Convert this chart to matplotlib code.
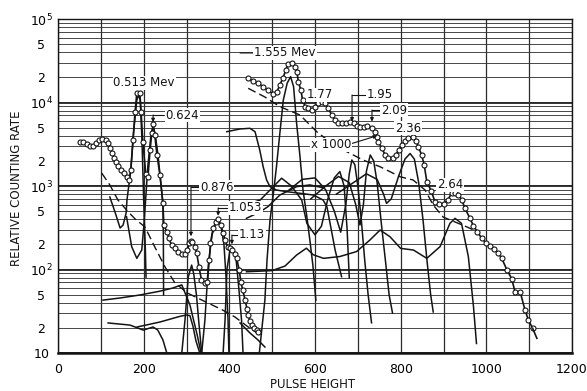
import numpy as np
import matplotlib
matplotlib.use('Agg')
import matplotlib.pyplot as plt
from matplotlib.ticker import FixedLocator, NullFormatter, FixedFormatter

# ---------------- data (pulse height, relative counting rate) ----------------
main_left_x = [51, 58, 68, 75, 82, 89, 96, 103, 112, 117, 121, 126, 131, 135, 140, 147, 154, 161, 166, 170,
               175, 180, 184, 191, 194, 198, 205, 210, 215, 219, 222, 226, 231, 238, 245, 247,
               254, 259, 265, 273, 281, 289, 297, 302, 307, 310, 314, 320, 324, 329, 335, 343, 349, 353,
               356, 362, 369, 374, 380, 386, 390, 396, 402, 407, 413, 417, 423, 427, 431, 437, 441, 444,
               448, 454, 458, 464, 468]
main_left_y = [3370, 3370, 3190, 3010, 3010, 3270, 3560, 3660, 3560, 3270, 2850, 2480, 2160, 1940, 1740, 1560,
               1430, 1280, 1180, 1560, 3560, 7700, 13000, 13000, 7700, 3370, 1390, 1280, 2700, 4320, 5520,
               4080, 2350, 1360, 625, 341,
               284, 237, 197, 179, 163, 152, 152, 171, 206, 221, 215, 185, 156, 108, 75, 68, 71, 130,
               206, 311, 373, 399, 341, 272, 225, 185, 179, 171, 152, 136, 99, 71, 57, 43, 34, 28.5,
               24.4, 21.6, 20.1, 18.8, 18]

main_right_x = [444, 455, 467, 479, 490, 502, 511, 518, 525, 532, 537, 546, 553, 558, 561, 567, 571, 577, 584,
                592, 600, 608, 616, 623, 631, 639, 647, 654, 662, 672, 681, 690, 697, 705, 715, 722, 732,
                740, 744, 748, 756, 764, 771, 781, 789, 795, 803, 810, 818, 828, 836, 841, 849, 855, 861,
                871, 880, 890, 900, 910, 919, 927, 935, 943, 950, 962, 970, 979, 989, 999, 1009, 1018,
                1027, 1036, 1048, 1059, 1067, 1079, 1090, 1098, 1108]
main_right_y = [19650, 18070, 17130, 15350, 14130, 12650, 13370, 16220, 19650, 24500, 28900, 29700, 26600,
                23200, 17740, 14130, 10720, 8920, 8530, 8130, 8920, 9780, 10230, 9780, 8530, 7080, 6170,
                5730, 5640, 5730, 5890, 5640, 5230, 5050, 5050, 5230, 4910, 4470, 3890, 3390, 2830, 2350,
                2150, 2150, 2350, 2700, 3100, 3490, 3720, 3830, 3490, 2960, 2350, 1780, 1130, 880, 650,
                610, 610, 680, 820, 830, 780, 680, 540, 410, 332, 284, 237, 209, 193, 175, 159, 136, 99,
                78, 54, 54, 33, 25, 19.8]
main_right_end_x = [1108, 1118]
main_right_end_y = [19.8, 15]

# background (dashed) curves
bg_left_x = [102, 121, 140, 160, 180, 203, 226, 250, 273, 303, 336, 383, 413, 444, 479]
bg_left_y = [1430, 1030, 679, 516, 403, 323, 186, 107, 69, 52, 43, 33, 27, 20.5, 15.6]
bg_right_x = [444, 483, 518, 565, 604, 635, 674, 712, 752, 799, 829, 857, 876, 899, 955, 985]
bg_right_y = [14800, 11640, 8920, 7080, 4470, 3370, 2580, 2050, 1700, 1290, 1180, 895, 592, 425, 323, 274]

# component curves, low-energy part
c513_x = [121, 133, 145, 152, 159, 161, 170, 177, 184, 188, 192, 196, 200, 204, 205.5]
c513_y = [738, 489, 314, 341, 475, 679, 1556, 4690, 10700, 12300, 10700, 3560, 679, 171, 81]
c624_x = [160, 172, 184, 195.5, 201, 205, 210, 217, 222, 226.5, 233.5, 240.5, 245, 246, 246.5]
c624_y = [429, 188, 136, 171, 361, 738, 1780, 4080, 5090, 4310, 2350, 1030, 592, 225, 49.5]
c876_x = [289, 296.5, 304, 312, 317, 323.5, 329, 335.5]
c876_y = [10, 24.8, 81, 113, 88, 48, 22.6, 10]
c1053_x = [335.5, 343, 351, 359.5, 369, 374, 380.5, 387.5, 392, 397, 399]
c1053_y = [10, 24.8, 113, 259, 371, 392, 332, 197, 86, 24.8, 10]
c113_x = [385.5, 390, 394.5, 401.5, 408.5, 415.5, 422.5, 428.5, 432]
c113_y = [10, 24.8, 101, 171, 181, 137, 57, 24.8, 10]
low1_x = [105, 145, 191, 238, 268, 289, 308, 325, 334]
low1_y = [43, 45.6, 49.5, 55, 60, 65.5, 37.6, 16.4, 10]
low2_x = [117, 168, 199, 222, 233, 245, 254]
low2_y = [22.9, 21.6, 18.8, 20.5, 18.8, 14.3, 10]
low3_x = [185, 238, 285, 300, 308, 315, 322, 331]
low3_y = [20.5, 23.5, 27.5, 28.5, 28, 21, 14, 10]
tail_x = [425, 448, 467, 483]
tail_y = [22.9, 17.4, 14.3, 11.8]

# component curves, high-energy part (x 1000)
rflat_x = [394, 425, 448, 460, 471, 479, 487, 495, 510, 534, 565, 596, 619, 628, 635, 647, 662]
rflat_y = [4470, 4820, 4910, 4470, 2700, 1700, 1180, 982, 895, 855, 818, 780, 679, 561, 361, 171, 82]
r0_x = [440, 472, 490, 518, 557, 588, 620]
r0_y = [410, 492, 565, 780, 982, 1030, 950]
r1555_x = [470, 483, 488, 495, 503, 510, 518, 526, 535, 543, 550, 557, 565, 572, 581, 588, 595, 602]
r1555_y = [10, 43, 130, 392, 824, 1700, 4310, 10700, 17000, 20400, 15500, 5680, 2240, 895, 429, 225, 113, 43]
r177_x = [425, 472, 500, 522, 545, 569, 581, 600, 615, 630, 645, 658, 668, 675, 680]
r177_y = [565, 679, 950, 1240, 1000, 679, 357, 260, 330, 700, 1250, 1490, 1000, 300, 80]
r195_x = [540, 570, 600, 625, 645, 660, 672, 680, 686, 693, 700, 708, 716, 724, 732]
r195_y = [900, 1200, 1250, 900, 500, 280, 600, 1400, 2050, 1800, 1000, 400, 130, 50, 23]
r209_x = [590, 625, 655, 680, 695, 705, 713, 720, 729, 737, 745, 755, 765, 773, 781]
r209_y = [700, 1000, 1300, 1100, 600, 341, 600, 1500, 2350, 2000, 1100, 350, 120, 50, 30]
r236_x = [650, 690, 720, 745, 760, 767, 778, 795, 810, 822, 832, 842, 852, 862, 870, 876]
r236_y = [800, 1100, 1400, 1200, 800, 620, 700, 1300, 2100, 2450, 2100, 1100, 400, 120, 50, 31]
r264_x = [440, 500, 530, 557, 580, 596, 620, 658, 697, 728, 752, 775, 800, 830, 861, 892, 915, 927, 942,
          958, 970, 977]
r264_y = [94, 97, 110, 149, 180, 150, 136, 143, 164, 225, 297, 247, 179, 171, 136, 188, 357, 410, 357,
          143, 36, 13]

x_ticks = [0, 200, 400, 600, 800, 1000, 1200]
y_ticks = [10, 20, 50, 100, 200, 500, 1000, 2000, 5000, 10000, 20000, 50000, 100000]
y_tick_labels = [r'$\mathregular{10}$', '2', '5', r'$\mathregular{10^2}$', '2', '5',
                 r'$\mathregular{10^3}$', '2', '5', r'$\mathregular{10^4}$', '2', '5', r'$\mathregular{10^5}$']

# peak labels: text, text position, leader path (None = no leader)
labels = [
    ('0.513 Mev', (201, 17140), None),
    ('0.624', (290, 7080), [(245, 7080), (222, 7080), (222, 5800)]),
    ('0.876', (371, 972), [(336, 972), (310.5, 972), (310.5, 250)]),
    ('1.053', (437, 546), [(402, 546), (374, 546), (374, 440)]),
    ('1.13', (453, 259), [(430, 259), (406, 259), (406, 200)]),
    ('1.555 Mev', (530, 39200), [(425, 39200), (467, 39200)]),
    ('1.77', (612, 12300), None),
    ('1.95', (752, 12300), [(724, 12300), (686.5, 12300), (686.5, 5900)]),
    ('2.09', (785, 8130), [(752, 8130), (733, 8130), (733, 5900)]),
    ('2.36', (817, 4950), None),
    ('x 1000', (637, 3100), [(687, 3240), (745, 4000)]),
    ('2.64', (915, 1030), None),
]

# ---------------- drawing ----------------
ink = '#141414'
plt.rcParams['font.family'] = ['DejaVu Sans']
fig = plt.figure(figsize=(5.87, 3.91), dpi=100)
ax = fig.add_axes([58 / 587, 1 - 353 / 391, (572 - 58) / 587, (353 - 19) / 391])
ax.set_yscale('log')
ax.set_xlim(0, 1200)
ax.set_ylim(10, 1e5)

# grid like log paper
minor = [m * 10 ** e for e in range(1, 5) for m in range(2, 10)]
ax.yaxis.set_major_locator(FixedLocator(y_ticks))
ax.yaxis.set_major_formatter(FixedFormatter(y_tick_labels))
ax.yaxis.set_minor_locator(FixedLocator(minor))
ax.yaxis.set_minor_formatter(NullFormatter())
ax.xaxis.set_major_locator(FixedLocator(x_ticks))
ax.xaxis.set_minor_locator(FixedLocator(list(range(100, 1200, 200))))
ax.grid(which='both', axis='y', color='#3a3a3a', lw=0.65)
ax.grid(which='both', axis='x', color='#2a2a2a', lw=0.9)
for e in range(1, 6):
    ax.axhline(10 ** e, color=ink, lw=1.3, zorder=1)
ax.tick_params(which='both', length=0)
ax.tick_params(axis='y', pad=12, labelsize=9)
ax.tick_params(axis='x', pad=7, labelsize=9)
for t in ax.get_yticklabels():
    t.set_horizontalalignment('center')
for s in ax.spines.values():
    s.set_color(ink)
    s.set_linewidth(1.0)
ax.spines['bottom'].set_linewidth(1.8)

lw = 1.1
comp = [(c513_x, c513_y), (c624_x, c624_y), (c876_x, c876_y), (c1053_x, c1053_y), (c113_x, c113_y),
        (low1_x, low1_y), (low2_x, low2_y), (low3_x, low3_y), (tail_x, tail_y),
        (rflat_x, rflat_y), (r0_x, r0_y), (r1555_x, r1555_y), (r177_x, r177_y), (r195_x, r195_y),
        (r209_x, r209_y), (r236_x, r236_y), (r264_x, r264_y)]
for cx, cy in comp:
    ax.plot(cx, cy, color=ink, lw=lw, zorder=3, clip_on=True)

ax.plot(bg_left_x, bg_left_y, color=ink, lw=1.0, ls=(0, (6, 3)), zorder=3)
ax.plot(bg_right_x, bg_right_y, color=ink, lw=1.0, ls=(0, (6, 3)), zorder=3)

mk = dict(marker='o', ms=3.6, mfc='white', mec=ink, mew=0.8, color=ink, lw=1.2, zorder=5)
ax.plot(main_left_x, main_left_y, **mk)
ax.plot(main_right_x, main_right_y, **mk)
ax.plot(main_right_end_x, main_right_end_y, color=ink, lw=1.2, zorder=5)

for text, pos, path in labels:
    ax.text(pos[0], pos[1], text, fontsize=8.5, ha='center', va='center', color=ink, zorder=7,
            bbox=dict(facecolor='white', edgecolor='none', pad=0.6))
    if path:
        xs = [p[0] for p in path]
        ys = [p[1] for p in path]
        ax.plot(xs[:-1], ys[:-1], color=ink, lw=0.8, zorder=6)
        ax.annotate('', xy=path[-1], xytext=path[-2],
                    arrowprops=dict(arrowstyle='-|>', lw=0.8, color=ink, mutation_scale=5,
                                    shrinkA=0, shrinkB=0), zorder=6)

fig.text(313 / 587, 1 - 384 / 391, 'PULSE HEIGHT', ha='center', va='center', fontsize=8.5, color=ink)
fig.text(17 / 587, 1 - 188 / 391, 'RELATIVE COUNTING RATE', ha='center', va='center', fontsize=8.5,
         rotation=90, color=ink)

fig.savefig('out.png', dpi=100, facecolor='white')
